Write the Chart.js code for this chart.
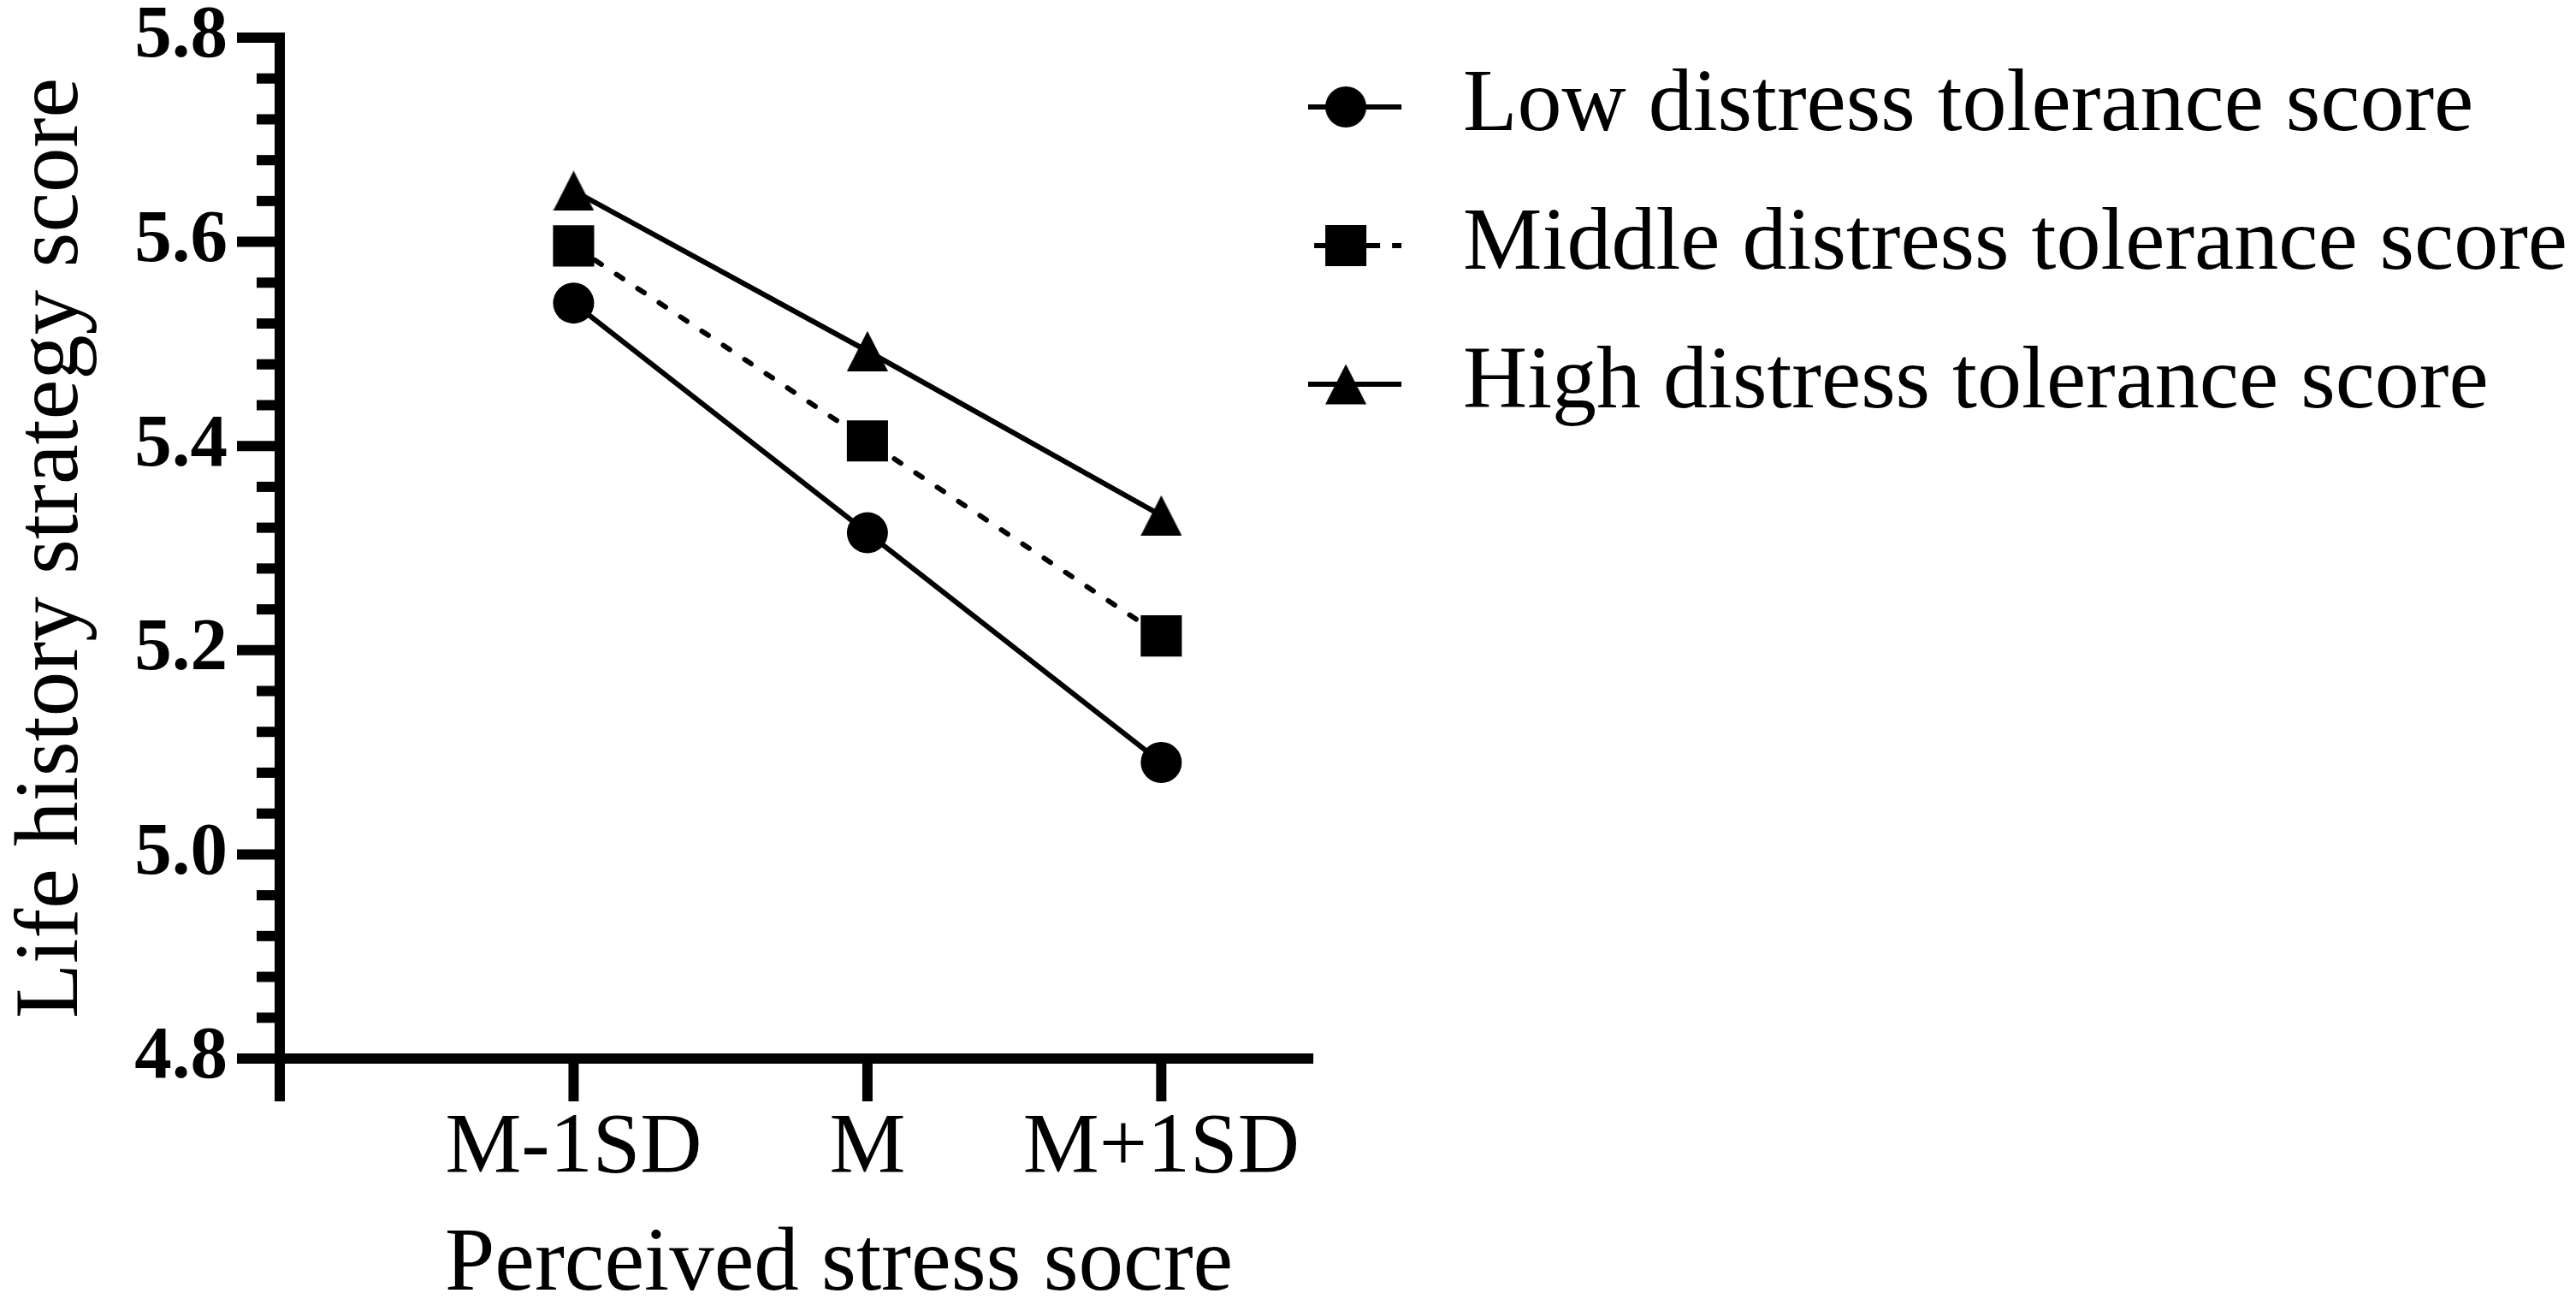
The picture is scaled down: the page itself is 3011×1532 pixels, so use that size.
<!DOCTYPE html>
<html>
<head>
<meta charset="utf-8">
<script src="https://cdn.jsdelivr.net/npm/chart.js@4.4.1/dist/chart.umd.min.js"></script>
<style>
  html, body { margin: 0; padding: 0; background: #ffffff; }
  #wrap { width: 3011px; height: 1532px; }
</style>
</head>
<body>
<div id="wrap"><canvas id="c" width="3011" height="1532"></canvas></div>
<script>
// ---------- data ----------
const categories = ['M-1SD', 'M', 'M+1SD'];
const categoryPositions = [1, 2, 3];
const lowScores = [5.540, 5.315, 5.090];
const middleScores = [5.596, 5.405, 5.214];
const highScores = [5.650, 5.493, 5.332];
const seriesNames = ['Low distress tolerance score', 'Middle distress tolerance score', 'High distress tolerance score'];
const yTickLabels = ['4.8', '5.0', '5.2', '5.4', '5.6', '5.8'];
const yMin = 4.8, yMax = 5.8, yMinorStep = 0.04, yMajorStep = 0.2;
const xMin = 0, xMax = 3.5;
const xTitle = 'Perceived stress socre';
const yTitle = 'Life history strategy score';

const FONT = "'Liberation Serif', 'Times New Roman', serif";
const AXIS_W = 12;

// ---------- marker images ----------
function triangleCanvas() {
  const c = document.createElement('canvas');
  c.width = 48; c.height = 47;
  const g = c.getContext('2d');
  g.fillStyle = '#000';
  g.beginPath(); g.moveTo(24, 0); g.lineTo(48, 47); g.lineTo(0, 47); g.closePath(); g.fill();
  return c;
}
function legendCanvas(kind) {
  const c = document.createElement('canvas');
  c.width = 227; c.height = 60;
  const g = c.getContext('2d');
  g.fillStyle = '#000'; g.strokeStyle = '#000'; g.lineWidth = 6;
  const cy = 30, cx = 64;
  if (kind === 'square') {
    [[0, 14], [27, 40], [88, 104], [118, 129]].forEach(([a, b]) => {
      g.beginPath(); g.moveTo(a, cy); g.lineTo(b, cy); g.stroke();
    });
  } else {
    g.beginPath(); g.moveTo(0, cy); g.lineTo(129, cy); g.stroke();
  }
  g.beginPath();
  if (kind === 'circle') { g.arc(cx, cy, 24, 0, Math.PI * 2); g.fill(); }
  else if (kind === 'square') { g.fillRect(cx - 24, cy - 24, 48, 48); }
  else { g.moveTo(cx, cy - 23.5); g.lineTo(cx + 24, cy + 23.5); g.lineTo(cx - 24, cy + 23.5); g.closePath(); g.fill(); }
  return c;
}
const legendIcons = [legendCanvas('circle'), legendCanvas('square'), legendCanvas('triangle')];

function toPoints(vals) { return vals.map((v, i) => ({x: categoryPositions[i], y: v})); }
function isMajor(v) { const r = (v - yMin) / yMajorStep; return Math.abs(r - Math.round(r)) < 1e-6; }

// ---------- axes drawn through the scales (Prism style) ----------
const prismAxes = {
  id: 'prismAxes',
  afterDraw(chart) {
    const {ctx, scales: {x, y}} = chart;
    const x0 = x.getPixelForValue(xMin);
    const yb = y.getPixelForValue(yMin);
    const yt = y.getPixelForValue(yMax);
    ctx.save();
    ctx.strokeStyle = '#000';
    ctx.lineWidth = AXIS_W;
    ctx.lineCap = 'butt';
    ctx.beginPath(); ctx.moveTo(x0, yt - 6); ctx.lineTo(x0, yb + 50); ctx.stroke();
    ctx.beginPath(); ctx.moveTo(x0 - 50, yb); ctx.lineTo(x.getPixelForValue(xMax) + 6, yb); ctx.stroke();
    y.ticks.forEach(t => {
      const py = y.getPixelForValue(t.value);
      const len = isMajor(t.value) ? 50 : 27;
      ctx.beginPath(); ctx.moveTo(x0 - len, py); ctx.lineTo(x0, py); ctx.stroke();
    });
    x.ticks.forEach(t => {
      const px = x.getPixelForValue(t.value);
      ctx.beginPath(); ctx.moveTo(px, yb); ctx.lineTo(px, yb + 50); ctx.stroke();
    });
    ctx.restore();
  }
};

const common = {
  borderColor: '#000', backgroundColor: '#000',
  pointBackgroundColor: '#000', pointBorderColor: '#000', pointBorderWidth: 0,
  borderWidth: 6, fill: false, tension: 0
};

new Chart(document.getElementById('c'), {
  type: 'line',
  data: {
    datasets: [
      Object.assign({}, common, {label: seriesNames[0], data: toPoints(lowScores), pointStyle: 'circle', pointRadius: 24}),
      Object.assign({}, common, {label: seriesNames[1], data: toPoints(middleScores), pointStyle: 'rect', pointRadius: 34, borderDash: [9, 21], borderCapStyle: 'round'}),
      Object.assign({}, common, {label: seriesNames[2], data: toPoints(highScores), pointStyle: triangleCanvas(), pointRadius: 24})
    ]
  },
  options: {
    responsive: false,
    devicePixelRatio: 1,
    animation: false,
    events: [],
    layout: {padding: {top: 15, left: 0, right: 0, bottom: 0}},
    scales: {
      x: {
        type: 'linear', min: xMin, max: xMax,
        grid: {display: false, drawTicks: false, tickLength: 0},
        border: {display: false},
        afterBuildTicks(s) { s.ticks = categoryPositions.map(v => ({value: v})); },
        ticks: {
          autoSkip: false, maxRotation: 0, minRotation: 0,
          padding: 46, color: '#000',
          font: {family: FONT, size: 100, lineHeight: 1.2},
          callback: v => { const i = categoryPositions.indexOf(v); return i >= 0 ? categories[i] : ''; }
        },
        title: {display: true, text: '    ' + xTitle, color: '#000',
          font: {family: FONT, size: 105, lineHeight: 1}, padding: {top: 0, bottom: 0}},
        afterFit(s) { s.height = 295; s.paddingLeft = 0; s.paddingRight = 0; }
      },
      y: {
        type: 'linear', min: yMin, max: yMax,
        grid: {display: false, drawTicks: false, tickLength: 0},
        border: {display: false},
        ticks: {
          stepSize: yMinorStep, autoSkip: false, padding: 61, color: '#000',
          font: {family: FONT, size: 87, weight: 'bold', lineHeight: 1.2},
          callback: v => { if (!isMajor(v)) return ''; const i = Math.round((v - yMin) / yMajorStep); return yTickLabels[i]; }
        },
        title: {display: true, text: yTitle, color: '#000',
          font: {family: FONT, size: 105, lineHeight: 1}, padding: {top: 10, bottom: 0}},
        afterFit(s) { s.width = 327; s.paddingTop = 44; s.paddingBottom = 0; }
      }
    },
    plugins: {
      tooltip: {enabled: false},
      legend: {
        display: true, position: 'right', align: 'start', maxWidth: 1487,
        labels: {
          usePointStyle: true, pointStyleWidth: 71, padding: 58, color: '#000',
          font: {family: FONT, size: 104},
          generateLabels(chart) {
            const items = Chart.defaults.plugins.legend.labels.generateLabels(chart);
            items.forEach((it, i) => { it.pointStyle = legendIcons[i]; it.lineWidth = 0; });
            return items;
          }
        }
      }
    }
  },
  plugins: [prismAxes]
});
</script>
</body>
</html>
